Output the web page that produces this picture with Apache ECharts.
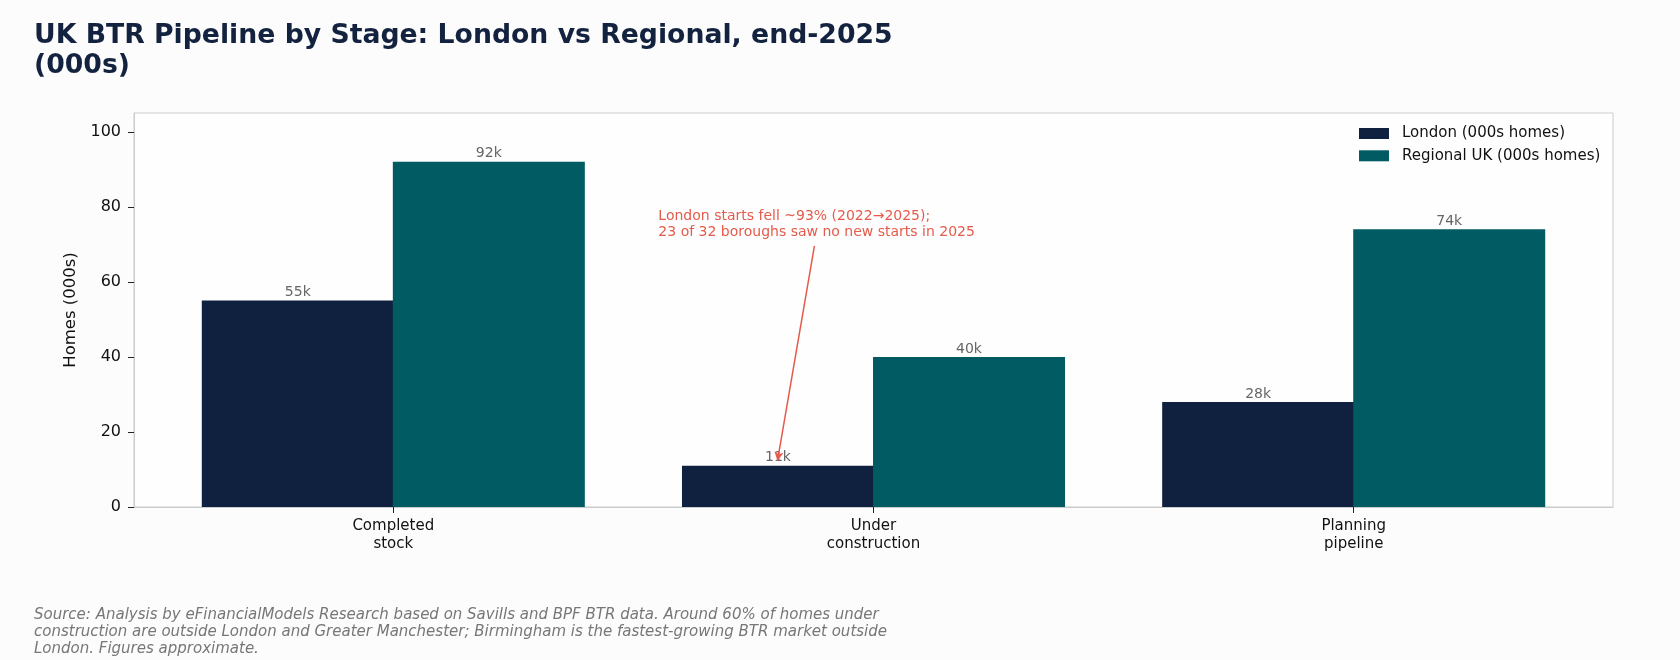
<!DOCTYPE html>
<html>
<head>
<meta charset="utf-8">
<script src="https://cdn.jsdelivr.net/npm/echarts@6/dist/echarts.min.js"></script>
<style>
    html, body { margin: 0; padding: 0; background: #fcfcfc; }
    #chart { width: 1680px; height: 660px; }
</style>
</head>
<body>
<div id="chart"></div>
<script>
// 数据
var stages = ['Completed\nstock', 'Under\nconstruction', 'Planning\npipeline'];
var stagePos = [0, 1, 2];
var londonHomes = [55, 11, 28];
var regionalHomes = [92, 40, 74];
var yTicks = [0, 20, 40, 60, 80, 100];

// 注释
var noteText = 'London starts fell ~93% (2022\u21922025);\n23 of 32 boroughs saw no new starts in 2025';
var notePoint = [0.552, 75.4];
var arrowFrom = [0.877, 69.6];
var arrowTo = [0.8, 12.3];

var sourceLines = [
    'Source: Analysis by eFinancialModels Research based on Savills and BPF BTR data. Around 60% of homes under',
    'construction are outside London and Greater Manchester; Birmingham is the fastest-growing BTR market outside',
    'London. Figures approximate.'
];

var FONT = 'DejaVu Sans';
var NOTE_COLOR = '#e55b4b';
var LONDON_COLOR = '#10213f';
var REGIONAL_COLOR = '#005b63';

function pairs(values) {
    var out = [];
    for (var i = 0; i < values.length; i++) {
        out.push([stagePos[i], values[i]]);
    }
    return out;
}

var chart = echarts.init(document.getElementById('chart'));

var barLabel = {
    show: true,
    position: 'top',
    distance: 1,
    color: '#666',
    fontFamily: FONT,
    fontSize: 14,
    formatter: function (p) {
        return p.value[1] + 'k';
    }
};

var option = {
    backgroundColor: '#fcfcfc',
    animation: false,
    title: {
        text: 'UK BTR Pipeline by Stage: London vs Regional, end-2025\n(000s)',
        left: 34,
        top: 21,
        padding: 0,
        textStyle: {
            fontFamily: FONT,
            fontWeight: 'bold',
            fontSize: 26.7,
            lineHeight: 30,
            color: '#13223f'
        }
    },
    legend: {
        orient: 'vertical',
        left: 1359,
        top: 124.5,
        padding: 0,
        itemWidth: 30,
        itemHeight: 11,
        itemGap: 4.3,
        icon: 'rect',
        textStyle: {
            fontFamily: FONT,
            fontSize: 15,
            lineHeight: 18,
            color: '#111',
            padding: [0, 0, 0, 8]
        },
        data: ['London (000s homes)', 'Regional UK (000s homes)']
    },
    grid: {
        left: 134,
        right: 67,
        top: 113,
        bottom: 153,
        show: true,
        backgroundColor: '#fefefe',
        borderColor: '#cccccc',
        borderWidth: 1
    },
    xAxis: {
        type: 'value',
        min: -0.54,
        max: 2.54,
        splitLine: {show: false},
        axisLine: {show: true, onZero: false, lineStyle: {color: '#cccccc'}},
        axisTick: {
            show: true,
            customValues: stagePos,
            length: 6,
            lineStyle: {color: '#222'}
        },
        axisLabel: {
            customValues: stagePos,
            margin: 10,
            fontFamily: FONT,
            fontSize: 15,
            lineHeight: 18,
            color: '#111',
            formatter: function (v) {
                return stages[Math.round(v)];
            }
        }
    },
    yAxis: {
        type: 'value',
        min: 0,
        max: 105,
        name: 'Homes (000s)',
        nameLocation: 'middle',
        nameGap: 48,
        nameRotate: 90,
        nameTextStyle: {fontFamily: FONT, fontSize: 16.5, color: '#111'},
        splitLine: {show: false},
        axisLine: {show: true, onZero: false, lineStyle: {color: '#cccccc'}},
        axisTick: {
            show: true,
            customValues: yTicks,
            length: 6,
            lineStyle: {color: '#222'}
        },
        axisLabel: {
            customValues: yTicks,
            margin: 13,
            fontFamily: FONT,
            fontSize: 16,
            color: '#111'
        }
    },
    series: [
        {
            name: 'London (000s homes)',
            type: 'bar',
            data: pairs(londonHomes),
            barWidth: 192,
            barGap: '-0.5%',
            itemStyle: {color: LONDON_COLOR},
            label: barLabel
        },
        {
            name: 'Regional UK (000s homes)',
            type: 'bar',
            data: pairs(regionalHomes),
            barWidth: 192,
            barGap: '-0.5%',
            itemStyle: {color: REGIONAL_COLOR},
            label: barLabel
        },
        {
            // 注释层（不带数据，只放标注）
            name: 'note',
            type: 'line',
            data: [],
            silent: true,
            markPoint: {
                silent: true,
                symbol: 'circle',
                symbolSize: 0,
                label: {
                    show: true,
                    position: 'right',
                    distance: 0,
                    align: 'left',
                    color: NOTE_COLOR,
                    fontFamily: FONT,
                    fontSize: 14,
                    lineHeight: 16.3,
                    formatter: noteText
                },
                data: [{coord: notePoint}]
            },
            markLine: {
                silent: true,
                symbol: ['none', 'arrow'],
                symbolSize: [7, 9],
                label: {show: false},
                lineStyle: {color: NOTE_COLOR, width: 1.5, type: 'solid'},
                data: [[{coord: arrowFrom}, {coord: arrowTo}]]
            }
        }
    ],
    graphic: [
        {
            type: 'text',
            left: 34,
            top: 606.5,
            style: {
                text: sourceLines.join('\n'),
                fontFamily: FONT,
                fontStyle: 'italic',
                fontSize: 15,
                lineHeight: 17,
                fill: '#777'
            }
        }
    ]
};

chart.setOption(option);
</script>
</body>
</html>
